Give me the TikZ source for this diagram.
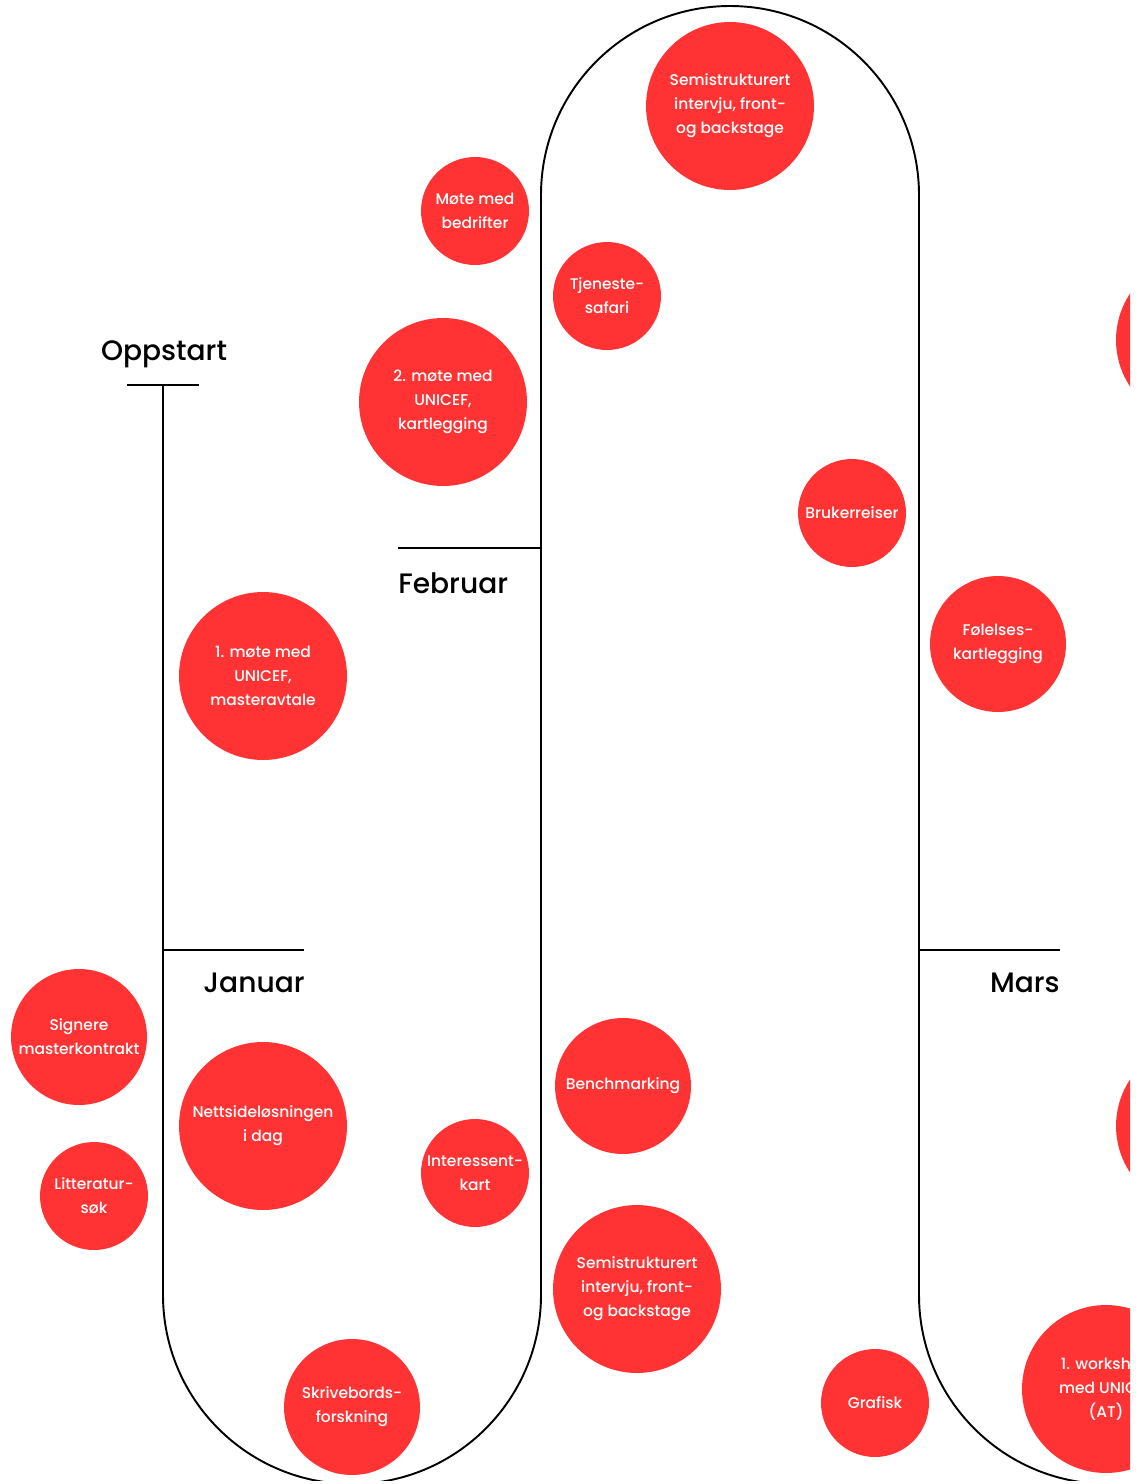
\documentclass[tikz,border=0pt]{standalone}
\usepackage{fontspec}
\setmainfont{Poppins}
\newfontfamily\mediumfont{Poppins Medium}
\definecolor{unired}{HTML}{FF3333}

\begin{document}
\begin{tikzpicture}[x=0.02cm, y=-0.02cm,
    activity/.style={circle, fill=unired, text=white, inner sep=0pt, align=center,
      font=\mediumfont\fontsize{8.8}{13.6}\selectfont},
    big/.style={activity, minimum size=3.36cm},
    medium/.style={activity, minimum size=2.72cm},
    small/.style={activity, minimum size=2.16cm},
    month/.style={inner sep=0pt, font=\mediumfont\fontsize{16}{19}\selectfont},
    timeline/.style={line width=1.1pt}]
  \useasboundingbox (0,0) rectangle (1144,1484);
  \begin{scope}
    \clip (0,0) rectangle (1130,1480);
    \draw[timeline] (127,385) -- (199,385);
    \draw[timeline] (163,950) -- (304,950);
    \draw[timeline] (398,548) -- (541,548);
    \draw[timeline] (919,950) -- (1060,950);
    \draw[timeline] (163,385) -- (163,1295)
      arc[start angle=180, end angle=0, radius=189] -- (541,195)
      arc[start angle=180, end angle=360, radius=189] -- (919,1295)
      arc[start angle=180, end angle=0, radius=189];

    \node[month, anchor=base] (oppstart) at (164,360) {Oppstart};
    \node[month, anchor=base east] (januar) at (305,992) {Januar};
    \node[month, anchor=base west] (februar) at (398,593) {Februar};
    \node[month, anchor=base east] (mars) at (1060,992) {Mars};

    \node[big] (semi1) at (730,106) {Semistrukturert\\intervju, front-\\og backstage};
    \node[small] (bedrifter) at (475,211) {Møte med\\bedrifter};
    \node[small] (safari) at (607,296) {Tjeneste-\\safari};
    \node[big] (mote2) at (443,402) {2. møte med\\UNICEF,\\kartlegging};
    \node[small] (reiser) at (852,513) {Brukerreiser};
    \node[medium] (folelser) at (998,644) {Følelses-\\kartlegging};
    \node[big] (mote1) at (263,676) {1. møte med\\UNICEF,\\masteravtale};
    \node[medium] (signere) at (79,1037) {Signere\\masterkontrakt};
    \node[big] (nettside) at (263,1126) {Nettsideløsningen\\i dag};
    \node[small] (litteratur) at (94,1196) {Litteratur-\\søk};
    \node[small] (interessent) at (475,1173) {Interessent-\\kart};
    \node[medium] (benchmark) at (623,1086) {Benchmarking};
    \node[big] (semi2) at (637,1289) {Semistrukturert\\intervju, front-\\og backstage};
    \node[medium] (skrivebord) at (352,1407) {Skrivebords-\\forskning};
    \node[small] (grafisk) at (875,1403) {Grafisk};
    \node[big] (workshop) at (1106,1389) {1. workshop\\med UNICEF\\(AT)};
    \node[big] (right1) at (1200,340) {};
    \node[big] (right2) at (1200,1126) {};
  \end{scope}
\end{tikzpicture}
\end{document}
